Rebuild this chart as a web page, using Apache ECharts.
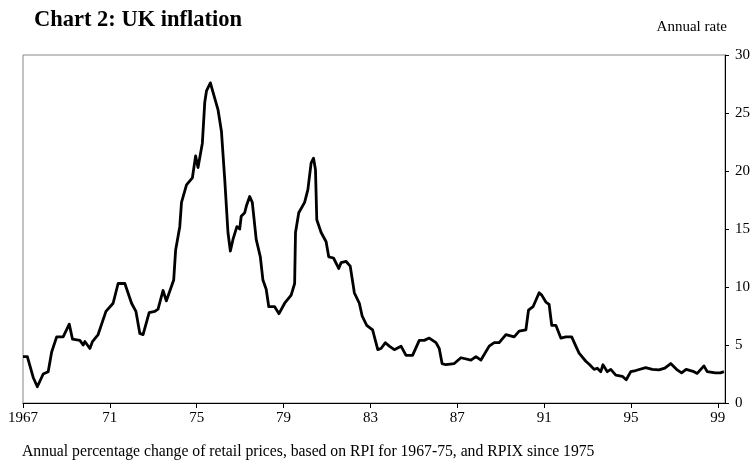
<!DOCTYPE html>
<html>
<head>
<meta charset="utf-8">
<script src="https://cdn.jsdelivr.net/npm/echarts@6/dist/echarts.min.js"></script>
<style>
  html, body { margin: 0; padding: 0; background: #fff; }
  #chart { width: 753px; height: 464px; }
</style>
</head>
<body>
<div id="chart"></div>
<script>
// axis ticks are counted in years since the start of 1967
const startYear = 1967;
const tickStep = 4;

// decimal years
const years = [
  1967.00, 1967.20, 1967.47, 1967.66, 1967.93, 1968.16, 1968.32, 1968.55, 1968.85, 1969.13,
  1969.28, 1969.62, 1969.77, 1969.85, 1970.08, 1970.20, 1970.46, 1970.82, 1971.15, 1971.38,
  1971.69, 1972.00, 1972.20, 1972.38, 1972.53, 1972.81, 1973.07, 1973.22, 1973.45, 1973.60,
  1973.94, 1974.03, 1974.22, 1974.30, 1974.53, 1974.80, 1974.95, 1975.06, 1975.26, 1975.37,
  1975.45, 1975.63, 1975.75, 1975.98, 1976.14, 1976.29, 1976.44, 1976.55, 1976.67, 1976.85,
  1976.98, 1977.05, 1977.21, 1977.29, 1977.44, 1977.56, 1977.74, 1977.93, 1978.05, 1978.20,
  1978.32, 1978.59, 1978.79, 1979.05, 1979.35, 1979.51, 1979.55, 1979.70, 1979.97, 1980.12,
  1980.27, 1980.38, 1980.47, 1980.53, 1980.73, 1980.96, 1981.08, 1981.30, 1981.54, 1981.65,
  1981.88, 1982.07, 1982.26, 1982.49, 1982.62, 1982.83, 1983.10, 1983.34, 1983.49, 1983.69,
  1983.87, 1984.10, 1984.41, 1984.64, 1984.94, 1985.25, 1985.48, 1985.71, 1986.02, 1986.17,
  1986.30, 1986.48, 1986.86, 1987.17, 1987.63, 1987.86, 1988.09, 1988.47, 1988.70, 1988.93,
  1989.24, 1989.62, 1989.85, 1990.16, 1990.28, 1990.49, 1990.77, 1990.89, 1991.08, 1991.23,
  1991.35, 1991.54, 1991.77, 1992.00, 1992.27, 1992.46, 1992.61, 1992.92, 1993.10, 1993.30,
  1993.45, 1993.61, 1993.71, 1993.91, 1994.07, 1994.30, 1994.60, 1994.78, 1994.99, 1995.22,
  1995.68, 1995.98, 1996.29, 1996.56, 1996.83, 1997.13, 1997.33, 1997.54, 1997.90, 1998.05,
  1998.36, 1998.51, 1998.89, 1999.12, 1999.28
];

// annual rate, per cent
const rates = [
  4.0, 4.0, 2.2, 1.4, 2.5, 2.7, 4.4, 5.7, 5.7, 6.8,
  5.5, 5.4, 5.0, 5.3, 4.7, 5.3, 5.9, 7.9, 8.6, 10.3,
  10.3, 8.6, 7.9, 6.0, 5.9, 7.8, 7.9, 8.1, 9.7, 8.8,
  10.6, 13.2, 15.2, 17.3, 18.8, 19.4, 21.3, 20.3, 22.4, 25.9,
  26.9, 27.6, 26.8, 25.3, 23.4, 19.3, 14.7, 13.1, 14.1, 15.2,
  15.0, 16.1, 16.4, 17.0, 17.8, 17.3, 14.1, 12.6, 10.6, 9.8,
  8.3, 8.3, 7.7, 8.6, 9.3, 10.3, 14.7, 16.4, 17.3, 18.4,
  20.7, 21.1, 20.1, 15.8, 14.7, 13.9, 12.6, 12.5, 11.6, 12.1,
  12.2, 11.8, 9.5, 8.6, 7.5, 6.7, 6.3, 4.6, 4.7, 5.2,
  4.9, 4.6, 4.9, 4.1, 4.1, 5.4, 5.4, 5.6, 5.2, 4.7,
  3.4, 3.3, 3.4, 3.9, 3.7, 4.0, 3.7, 4.9, 5.2, 5.2,
  5.9, 5.7, 6.2, 6.3, 8.0, 8.3, 9.5, 9.3, 8.7, 8.5,
  6.7, 6.7, 5.6, 5.7, 5.7, 4.9, 4.3, 3.6, 3.3, 2.9,
  3.0, 2.7, 3.3, 2.7, 2.9, 2.4, 2.3, 2.0, 2.7, 2.8,
  3.05, 2.9, 2.85, 3.0, 3.4, 2.85, 2.6, 2.9, 2.7, 2.55,
  3.2, 2.7, 2.6, 2.6, 2.7
];

const serif = '"Liberation Serif", "DejaVu Serif", serif';
const chart = echarts.init(document.getElementById('chart'));

chart.setOption({
  animation: false,
  backgroundColor: '#fff',
  title: {
    text: 'Chart 2: UK inflation',
    left: 29,
    top: 4,
    textStyle: { fontFamily: serif, fontSize: 22.5, fontWeight: 'bold', color: '#000' }
  },
  graphic: [
    {
      type: 'text', right: 26, top: 20,
      style: { text: 'Annual rate', font: '15px ' + serif, fill: '#000' }
    },
    {
      type: 'text', left: 22, top: 444,
      style: {
        text: 'Annual percentage change of retail prices, based on RPI for 1967-75, and RPIX since 1975',
        font: '15.7px ' + serif, fill: '#000'
      }
    }
  ],
  grid: {
    left: 23, right: 27, top: 55, bottom: 61,
    show: true, borderColor: '#888', borderWidth: 1, backgroundColor: 'transparent'
  },
  xAxis: {
    type: 'value',
    min: 0,
    max: 1999.33 - startYear,
    interval: tickStep,
    axisLine: { show: true, onZero: false, lineStyle: { color: '#000', width: 1 } },
    axisTick: { show: true, inside: false, length: 5, lineStyle: { color: '#000' } },
    axisLabel: {
      margin: 8, fontFamily: serif, fontSize: 15, color: '#000',
      showMaxLabel: false,
      formatter: v => v === 0 ? String(startYear) : String((startYear + v) % 100)
    },
    splitLine: { show: false }
  },
  yAxis: {
    type: 'value',
    position: 'right',
    min: 0, max: 30, interval: 5,
    axisLine: { show: true, onZero: false, lineStyle: { color: '#000', width: 1 } },
    axisTick: { show: true, inside: false, length: 4, lineStyle: { color: '#000' } },
    axisLabel: { margin: 10, fontFamily: serif, fontSize: 15, color: '#000' },
    splitLine: { show: false }
  },
  series: [{
    type: 'line',
    data: years.map((y, i) => [y - startYear, rates[i]]),
    showSymbol: false,
    lineStyle: { color: '#000', width: 2.8, join: 'round' }
  }]
});
</script>
</body>
</html>
